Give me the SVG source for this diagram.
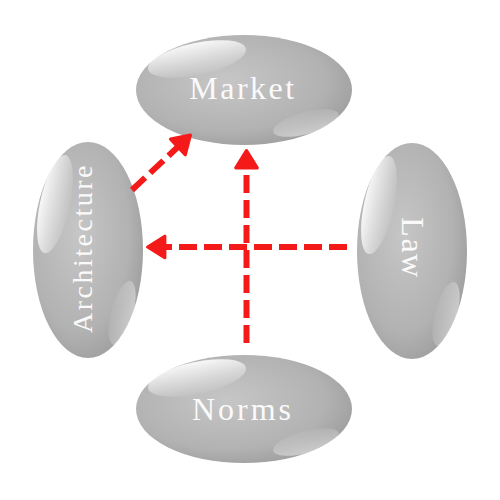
<svg xmlns="http://www.w3.org/2000/svg" width="500" height="500" viewBox="0 0 500 500">
  <defs>
    <radialGradient id="body" cx="0.42" cy="0.42" r="0.65">
      <stop offset="0" stop-color="#c6c6c6"/>
      <stop offset="0.7" stop-color="#b2b2b2"/>
      <stop offset="1" stop-color="#9c9c9c"/>
    </radialGradient>
    <linearGradient id="hlH" x1="0" y1="0" x2="0" y2="1">
      <stop offset="0" stop-color="#ffffff" stop-opacity="0.9"/>
      <stop offset="1" stop-color="#ffffff" stop-opacity="0.05"/>
    </linearGradient>
    <linearGradient id="hlH2" x1="0" y1="0" x2="0" y2="1">
      <stop offset="0" stop-color="#ffffff" stop-opacity="0.05"/>
      <stop offset="1" stop-color="#ffffff" stop-opacity="0.45"/>
    </linearGradient>
    <linearGradient id="hlV" x1="0" y1="0" x2="1" y2="0">
      <stop offset="0" stop-color="#ffffff" stop-opacity="0.9"/>
      <stop offset="1" stop-color="#ffffff" stop-opacity="0.05"/>
    </linearGradient>
    <linearGradient id="hlV2" x1="0" y1="0" x2="1" y2="0">
      <stop offset="0" stop-color="#ffffff" stop-opacity="0.05"/>
      <stop offset="1" stop-color="#ffffff" stop-opacity="0.45"/>
    </linearGradient>
    <marker id="arrow" markerUnits="userSpaceOnUse" markerWidth="30" markerHeight="30" viewBox="-3 -14 24 28" refX="4" refY="0" orient="auto">
      <path d="M0,-10 L16,0 L0,10 Z" fill="#f51a1a" stroke="#f51a1a" stroke-width="3" stroke-linejoin="round"/>
    </marker>
  </defs>
  <style>
    .body { fill: url(#body); }
    .label { font-family: "Liberation Serif", "DejaVu Serif", serif; fill: #fafafa; text-anchor: middle; }
    .conn { stroke: #f51a1a; stroke-width: 6; fill: none; stroke-dasharray: 18 7; marker-end: url(#arrow); }
  </style>

  <g id="market" transform="translate(244,90)">
    <ellipse class="body" rx="108" ry="55"/>
    <ellipse cx="-47" cy="-31" rx="50" ry="16" transform="rotate(-12 -47 -31)" fill="url(#hlH)"/>
    <ellipse cx="62" cy="33" rx="34" ry="11" transform="rotate(-15 62 33)" fill="url(#hlH2)"/>
    <text class="label" x="-1" y="9" font-size="32" letter-spacing="2.5">Market</text>
  </g>

  <g id="norms" transform="translate(244,409)">
    <ellipse class="body" rx="108" ry="54"/>
    <ellipse cx="-47" cy="-31" rx="50" ry="16" transform="rotate(-12 -47 -31)" fill="url(#hlH)"/>
    <ellipse cx="62" cy="33" rx="34" ry="11" transform="rotate(-15 62 33)" fill="url(#hlH2)"/>
    <text class="label" x="-1" y="11" font-size="32" letter-spacing="3">Norms</text>
  </g>

  <g id="architecture" transform="translate(88,250)">
    <ellipse class="body" rx="55" ry="108"/>
    <ellipse cx="-33" cy="-46" rx="15" ry="50" transform="rotate(12 -33 -46)" fill="url(#hlV)"/>
    <ellipse cx="34" cy="63" rx="11" ry="33" transform="rotate(15 34 63)" fill="url(#hlV2)"/>
    <text class="label" transform="translate(4,-2) rotate(-90)" x="0" y="0" font-size="28" letter-spacing="2.5">Architecture</text>
  </g>

  <g id="law" transform="translate(412,251)">
    <ellipse class="body" rx="55" ry="108"/>
    <ellipse cx="-33" cy="-46" rx="15" ry="50" transform="rotate(12 -33 -46)" fill="url(#hlV)"/>
    <ellipse cx="34" cy="63" rx="11" ry="33" transform="rotate(15 34 63)" fill="url(#hlV2)"/>
    <text class="label" transform="translate(-10,-3) rotate(90)" x="0" y="0" font-size="32" letter-spacing="1.5">Law</text>
  </g>

  <g id="connectors">
    <line class="conn" x1="132" y1="190" x2="181" y2="144"/>
    <line class="conn" x1="246.5" y1="343" x2="246.5" y2="163.5"/>
    <line class="conn" x1="347" y1="247" x2="160.5" y2="247"/>
  </g>
</svg>
